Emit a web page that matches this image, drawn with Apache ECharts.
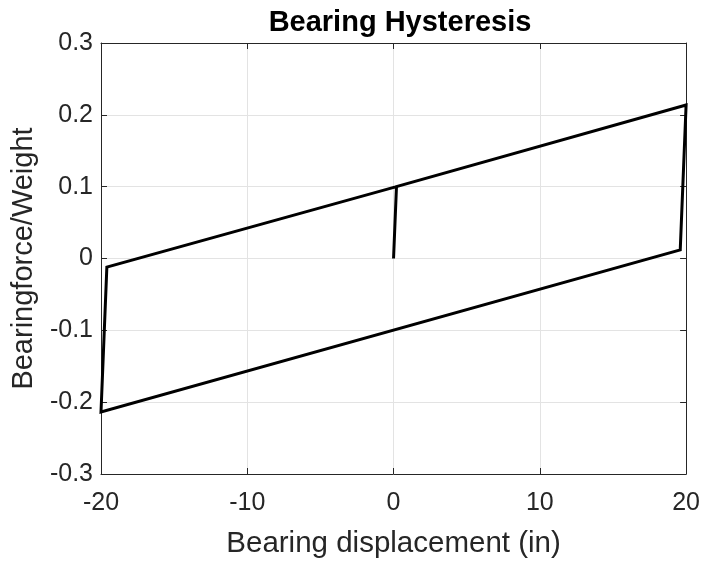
<!DOCTYPE html>
<html>
<head>
<meta charset="utf-8">
<script src="https://cdn.jsdelivr.net/npm/echarts@6/dist/echarts.min.js"></script>
<style>
  html, body { margin: 0; padding: 0; background: #fff; overflow: hidden; }
  #chart { width: 703px; height: 564px; }
</style>
</head>
<body>
<div id="chart"></div>
<script>
// hysteresis loop
const displacement = [0, 0.2, 20, 19.6, -20, -19.6, 0.2, 20];
const forceRatio = [0, 0.1, 0.2136, 0.012, -0.2136, -0.012, 0.1, 0.2136];
const xTicks = [-20, -10, 0, 10, 20];
const yTicks = [-0.3, -0.2, -0.1, 0, 0.1, 0.2, 0.3];

const chart = echarts.init(document.getElementById('chart'), null, { renderer: 'canvas' });

const font = 'Liberation Sans, Arial, Helvetica, sans-serif';
const axisColor = '#262626';

const baseX = {
  type: 'value',
  min: -20,
  max: 20,
  interval: 10,
  axisLine: { show: true, onZero: false, lineStyle: { color: axisColor, width: 1 } },
  axisTick: { show: true, inside: true, length: 6, lineStyle: { color: axisColor } },
  splitLine: { show: false }
};
const baseY = {
  type: 'value',
  min: -0.3,
  max: 0.3,
  interval: 0.1,
  axisLine: { show: true, onZero: false, lineStyle: { color: axisColor, width: 1 } },
  axisTick: { show: true, inside: true, length: 6, lineStyle: { color: axisColor } },
  splitLine: { show: false }
};

const option = {
  animation: false,
  backgroundColor: '#fff',
  title: {
    text: 'Bearing Hysteresis',
    left: 395,
    textAlign: 'center',
    top: 3,
    textStyle: { fontFamily: font, fontSize: 29, fontWeight: 'bold', color: '#000' }
  },
  grid: { left: 101, right: 15, top: 43, bottom: 84 },
  xAxis: [
    Object.assign({}, baseX, {
      position: 'bottom',
      name: 'Bearing displacement (in)',
      nameLocation: 'middle',
      nameGap: 55,
      nameTextStyle: { fontFamily: font, fontSize: 29.5, color: axisColor },
      axisLabel: {
        fontFamily: font, fontSize: 25, color: axisColor, margin: 17,
        formatter: v => xTicks.includes(v) ? String(v) : ''
      },
      splitLine: { show: true, lineStyle: { color: '#e3e3e3', width: 1 } }
    }),
    Object.assign({}, baseX, { position: 'top', axisLabel: { show: false } })
  ],
  yAxis: [
    Object.assign({}, baseY, {
      position: 'left',
      name: 'Bearingforce/Weight',
      nameLocation: 'middle',
      nameGap: 63,
      nameTextStyle: { fontFamily: font, fontSize: 29, color: axisColor },
      axisLabel: {
        fontFamily: font, fontSize: 25, color: axisColor, margin: 8,
        formatter: v => {
          const t = yTicks.find(k => Math.abs(k - v) < 1e-9);
          return t === undefined ? '' : (Math.abs(t) < 1e-9 ? '0' : String(t));
        }
      },
      splitLine: { show: true, lineStyle: { color: '#e3e3e3', width: 1 } }
    }),
    Object.assign({}, baseY, { position: 'right', axisLabel: { show: false } })
  ],
  series: [{
    type: 'line',
    xAxisIndex: 0,
    yAxisIndex: 0,
    data: displacement.map((x, i) => [x, forceRatio[i]]),
    showSymbol: false,
    lineStyle: { color: '#000', width: 3, join: 'miter' },
    clip: false
  }]
};

chart.setOption(option);
</script>
</body>
</html>
